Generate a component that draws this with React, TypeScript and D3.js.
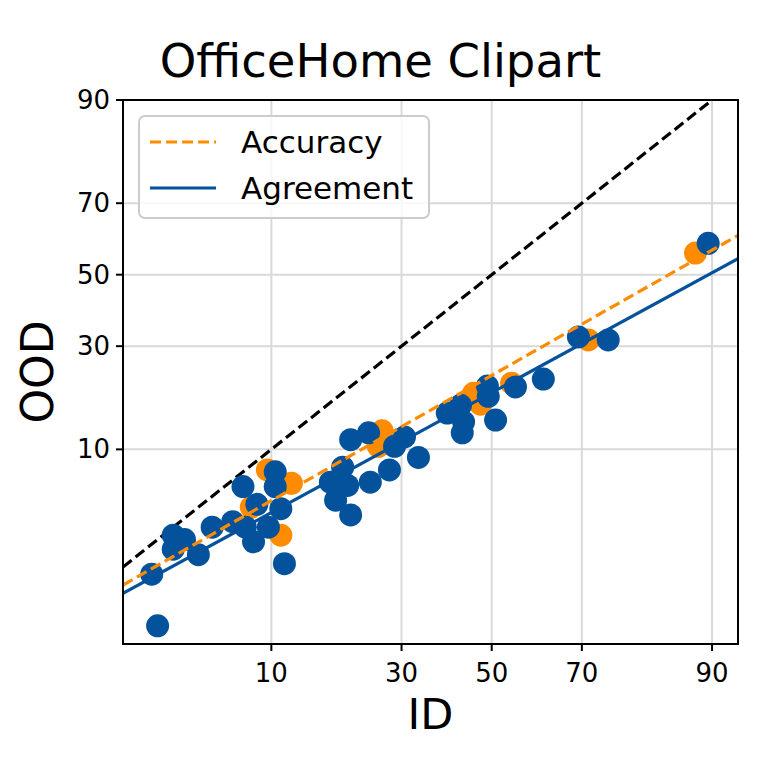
import { useMemo } from "react";
import * as d3 from "d3";

const WIDTH = 761;
const HEIGHT = 761;
const MARGIN = { top: 100, right: 23, bottom: 117, left: 123 };
const BLUE = "#03529b";
const ORANGE = "#ff8c00";

// ID / OOD values in percent
const agreeId = [2.4, 2.6, 3.2, 3.2, 3.7, 4.4, 5.2, 6.6, 7.4, 7.6, 8.3, 8.6, 9.7, 10.4, 10.4, 11.0, 11.4,
  17.4, 18.2, 19.3, 20.1, 20.6, 20.6, 23.7, 24.0, 27.6, 28.6, 30.6, 33.5,
  39.8, 42.8, 43.5, 43.2, 49.0, 49.2, 50.9, 55.5, 61.8, 69.3, 75.1, 89.6];
const agreeOod = [1.4, 0.5, 2.8, 2.2, 2.6, 2.0, 3.2, 3.5, 6.0, 3.2, 2.5, 4.6, 3.2, 7.4, 6.0, 4.3, 1.7,
  6.4, 4.9, 7.9, 6.1, 11.3, 3.9, 12.3, 6.4, 7.6, 10.4, 11.7, 9.0,
  15.5, 16.9, 14.0, 12.3, 20.7, 18.6, 14.3, 20.5, 22.2, 32.4, 31.6, 59.1];

const accId = [8.1, 9.6, 12.2, 11.0, 26.2, 25.5, 45.8, 47.4, 54.6, 71.3, 88.2];
const accOod = [4.4, 7.6, 6.3, 2.8, 12.6, 10.4, 19.2, 17.1, 21.3, 31.6, 56.3];

// linear fits in probit space: [slope, intercept]
const accFit = [0.717, -0.739];
const agreeFit = [0.686, -0.866];

const ticks = [10, 30, 50, 70, 90];
const xLim = [1.6, 92.4];
const yLim = [0.337, 90];

// inverse normal CDF (Acklam)
function probit(p: number) {
  const a = [-39.69683028665376, 220.9460984245205, -275.9285104469687, 138.357751867269, -30.66479806614716, 2.506628277459239];
  const b = [-54.47609879822406, 161.5858368580409, -155.6989798598866, 66.80131188771972, -13.28068155288572];
  const c = [-0.007784894002430293, -0.3223964580411365, -2.400758277161838, -2.549732539343734, 4.374664141464968, 2.938163982698783];
  const d = [0.007784695709041462, 0.3224671290700398, 2.445134137142996, 3.754408661907416];
  const pl = 0.02425;
  if (p < pl) {
    const q = Math.sqrt(-2 * Math.log(p));
    return (((((c[0] * q + c[1]) * q + c[2]) * q + c[3]) * q + c[4]) * q + c[5]) /
      ((((d[0] * q + d[1]) * q + d[2]) * q + d[3]) * q + 1);
  }
  if (p > 1 - pl) {
    const q = Math.sqrt(-2 * Math.log(1 - p));
    return -(((((c[0] * q + c[1]) * q + c[2]) * q + c[3]) * q + c[4]) * q + c[5]) /
      ((((d[0] * q + d[1]) * q + d[2]) * q + d[3]) * q + 1);
  }
  const q = p - 0.5;
  const r = q * q;
  return (((((a[0] * r + a[1]) * r + a[2]) * r + a[3]) * r + a[4]) * r + a[5]) * q /
    (((((b[0] * r + b[1]) * r + b[2]) * r + b[3]) * r + b[4]) * r + 1);
}
const pr = (v: number) => probit(v / 100);

export default function App() {
  const boundsWidth = WIDTH - MARGIN.left - MARGIN.right;
  const boundsHeight = HEIGHT - MARGIN.top - MARGIN.bottom;

  const xScale = useMemo(
    () => d3.scaleLinear().domain([pr(xLim[0]), pr(xLim[1])]).range([0, boundsWidth]),
    [boundsWidth]
  );
  const yScale = useMemo(
    () => d3.scaleLinear().domain([pr(yLim[0]), pr(yLim[1])]).range([boundsHeight, 0]),
    [boundsHeight]
  );

  const [x0, x1] = xScale.domain();
  const line = d3
    .line<[number, number]>()
    .x((d) => xScale(d[0]))
    .y((d) => yScale(d[1]));
  const fitPath = (f: number[]) => line([[x0, f[0] * x0 + f[1]], [x1, f[0] * x1 + f[1]]]);
  const diagPath = line([[x0, x0], [x1, x1]]);

  const font = "DejaVu Sans, sans-serif";

  return (
    <svg width={WIDTH} height={HEIGHT} style={{ position: "absolute", left: 0, top: 0 }} fontFamily={font}>
      <rect width={WIDTH} height={HEIGHT} fill="white" />
      <text x={WIDTH / 2} y={77} textAnchor="middle" fontSize={46.5}>OfficeHome Clipart</text>
      <g transform={`translate(${MARGIN.left},${MARGIN.top})`}>
        <defs>
          <clipPath id="plot-clip">
            <rect width={boundsWidth} height={boundsHeight} />
          </clipPath>
        </defs>
        {ticks.map((t) => (
          <g key={`g${t}`} stroke="#d9d9d9" strokeWidth={2}>
            <line x1={xScale(pr(t))} x2={xScale(pr(t))} y1={0} y2={boundsHeight} />
            <line x1={0} x2={boundsWidth} y1={yScale(pr(t))} y2={yScale(pr(t))} />
          </g>
        ))}
        <g clipPath="url(#plot-clip)">
          <path d={diagPath ?? ""} stroke="black" strokeWidth={3.2} strokeDasharray="11,5" fill="none" />
          {accId.map((v, i) => (
            <circle key={`a${i}`} cx={xScale(pr(v))} cy={yScale(pr(accOod[i]))} r={11.5} fill={ORANGE} />
          ))}
          {agreeId.map((v, i) => (
            <circle key={`b${i}`} cx={xScale(pr(v))} cy={yScale(pr(agreeOod[i]))} r={11.5} fill={BLUE} />
          ))}
          <path d={fitPath(accFit) ?? ""} stroke={ORANGE} strokeWidth={3.2} strokeDasharray="11,5" fill="none" />
          <path d={fitPath(agreeFit) ?? ""} stroke={BLUE} strokeWidth={3.2} fill="none" />
        </g>
        <rect width={boundsWidth} height={boundsHeight} fill="none" stroke="black" strokeWidth={2} />
        {ticks.map((t) => (
          <g key={`xt${t}`} transform={`translate(${xScale(pr(t))},${boundsHeight})`}>
            <line y2={7} stroke="black" strokeWidth={2} />
            <text y={38} textAnchor="middle" fontSize={26}>{t}</text>
          </g>
        ))}
        {ticks.map((t) => (
          <g key={`yt${t}`} transform={`translate(0,${yScale(pr(t))})`}>
            <line x2={-7} stroke="black" strokeWidth={2} />
            <text x={-13} dy="0.35em" textAnchor="end" fontSize={26}>{t}</text>
          </g>
        ))}
        <text x={boundsWidth / 2} y={boundsHeight + 85} textAnchor="middle" fontSize={43}>ID</text>
        <text transform={`translate(-70,${boundsHeight / 2}) rotate(-90)`} textAnchor="middle" fontSize={44}>OOD</text>
        <g transform="translate(16,16)">
          <rect width={290} height={102} rx={6} fill="white" fillOpacity={0.8} stroke="#cccccc" strokeWidth={2} />
          <line x1={11} x2={77} y1={26} y2={26} stroke={ORANGE} strokeWidth={3.2} strokeDasharray="11,5" />
          <text x={102} y={37} fontSize={31}>Accuracy</text>
          <line x1={11} x2={77} y1={72} y2={72} stroke={BLUE} strokeWidth={3.2} />
          <text x={102} y={83} fontSize={31}>Agreement</text>
        </g>
      </g>
    </svg>
  );
}
